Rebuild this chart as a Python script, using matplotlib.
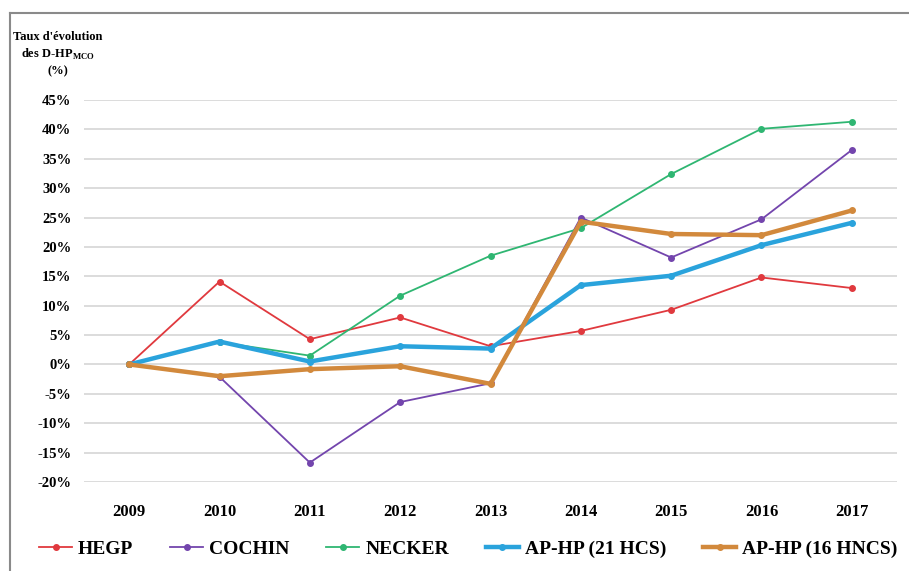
import matplotlib.pyplot as plt
from matplotlib.lines import Line2D

plt.rcParams['font.family'] = ['Liberation Serif', 'DejaVu Serif']

years = ["2009", "2010", "2011", "2012", "2013", "2014", "2015", "2016", "2017"]
hegp = [0.0, 14.1, 4.3, 8.0, 3.1, 5.7, 9.3, 14.8, 13.0]
cochin = [0.0, -2.1, -16.7, -6.4, -3.2, 25.0, 18.2, 24.7, 36.5]
necker = [0.0, 3.8, 1.5, 11.7, 18.5, 23.2, 32.4, 40.1, 41.3]
aphp_21 = [0.0, 3.9, 0.5, 3.1, 2.7, 13.5, 15.1, 20.3, 24.1]
aphp_16 = [0.0, -2.0, -0.8, -0.3, -3.3, 24.3, 22.2, 22.0, 26.2]
y_ticks = list(range(-20, 50, 5))

series = [
    ("HEGP", hegp, "#e0393e", 1.3),
    ("COCHIN", cochin, "#7345ad", 1.3),
    ("NECKER", necker, "#2fb672", 1.3),
    ("AP-HP (21 HCS)", aphp_21, "#2aa3dc", 3.2),
    ("AP-HP (16 HNCS)", aphp_16, "#d2893c", 3.2),
]

fig = plt.figure(figsize=(9.09, 5.71), dpi=100)
ax = fig.add_axes([84 / 909, 1 - 482 / 571, (897 - 84) / 909, (482 - 100) / 571])

x = range(len(years))
for name, vals, color, lw in series:
    ax.plot(x, vals, color=color, lw=lw, marker="o", ms=4, label=name, zorder=3)

ax.set_xlim(-0.5, len(years) - 0.5)
ax.set_ylim(-20, 45)
ax.set_yticks(y_ticks)
ax.set_yticklabels([f"{t}%" for t in y_ticks], fontsize=10.5, fontweight="bold")
ax.set_xticks(list(x))
ax.set_xticklabels(years, fontsize=12, fontweight="bold")
ax.tick_params(length=0)
ax.tick_params(axis="x", pad=16)
ax.tick_params(axis="y", pad=9)
ax.grid(axis="y", color="#d9d9d9", lw=1.3)
ax.set_axisbelow(True)
for s in ax.spines.values():
    s.set_visible(False)

fig.text(58 / 909, 1 - 54 / 571, "Taux d'évolution\ndes D-HP$_{\\mathregular{MCO}}$\n(%)",
         ha="center", va="center", fontsize=9, fontweight="bold", linespacing=1.35)

handles = [Line2D([0], [0], color=c, lw=lw, marker="o", ms=4) for _, _, c, lw in series]
fig.legend(handles, [s[0] for s in series], loc="center", bbox_to_anchor=(0.515, 1 - 549 / 571),
           ncol=5, frameon=False, prop={"size": 14, "weight": "bold"},
           handlelength=1.7, columnspacing=1.9, handletextpad=0.3)

# border lines at top/left like the source screenshot
fig.add_artist(Line2D([10 / 909, 10 / 909], [0, 1 - 13 / 571], color="#8a8a8a", lw=1.5))
fig.add_artist(Line2D([10 / 909, 1], [1 - 13 / 571, 1 - 13 / 571], color="#8a8a8a", lw=1.5))

fig.savefig("out.png", dpi=100)
